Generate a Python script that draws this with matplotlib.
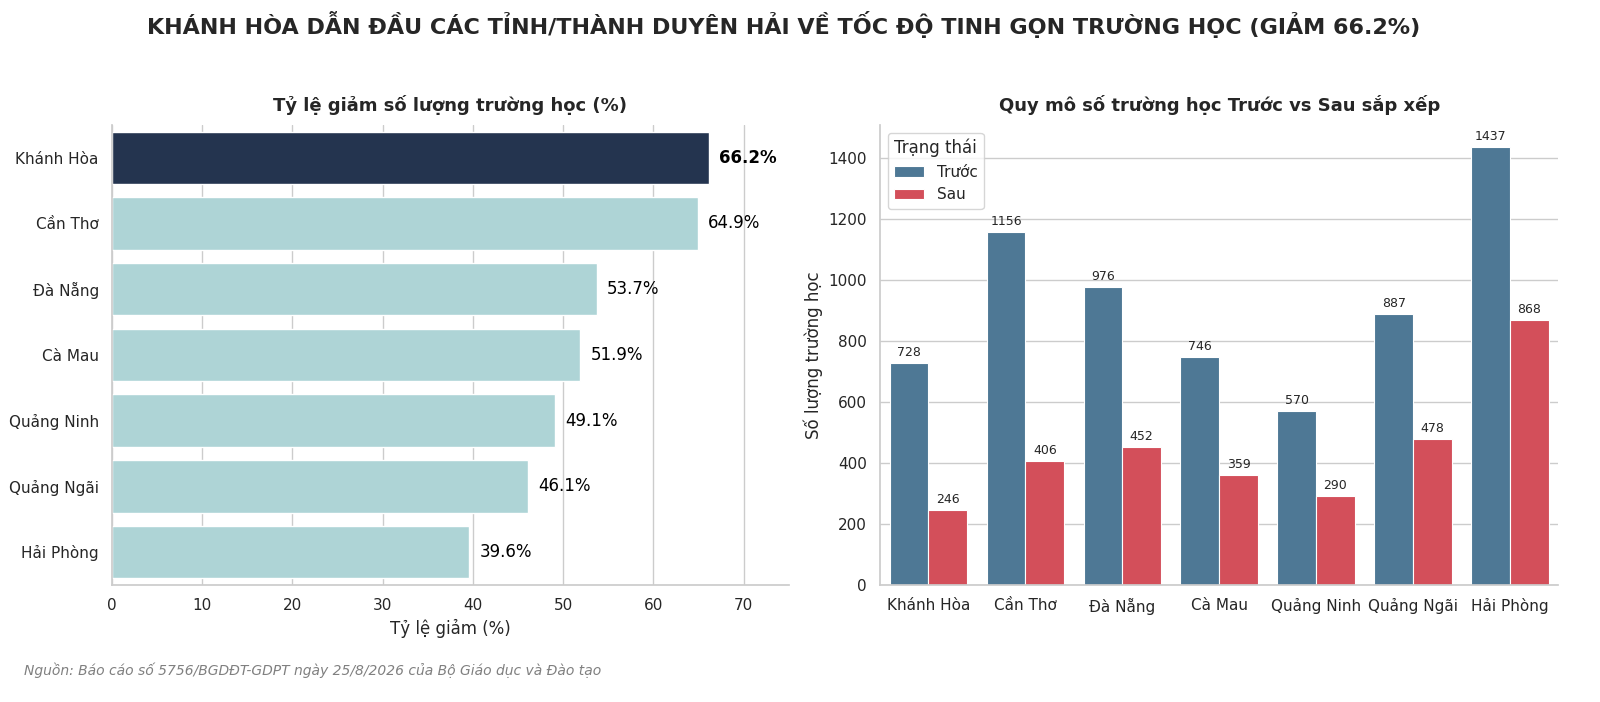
import matplotlib
matplotlib.use("Agg")
from matplotlib import pyplot as plt
import numpy as np
import seaborn as sns

provinces = ['Khánh Hòa', 'Cần Thơ', 'Đà Nẵng', 'Cà Mau', 'Quảng Ninh', 'Quảng Ngãi', 'Hải Phòng']
reduction_pct = [66.2, 64.9, 53.7, 51.9, 49.1, 46.1, 39.6]
before = [728, 1156, 976, 746, 570, 887, 1437]
after = [246, 406, 452, 359, 290, 478, 868]
status_labels = ['Trước', 'Sau']

sns.set_theme(style='whitegrid')
plt.rcParams['font.family'] = ['DejaVu Sans']

fig = plt.figure(figsize=(16, 7.02), dpi=100)
ax1 = fig.add_axes([0.07, 0.167, 0.423, 0.655])
ax2 = fig.add_axes([0.55, 0.167, 0.424, 0.655])

# left: reduction rate
y = np.arange(len(provinces))
colors = ['#24344f'] + ['#aed4d6'] * (len(provinces) - 1)
ax1.barh(y, reduction_pct, height=0.8, color=colors, zorder=2)
ax1.set_yticks(y)
ax1.set_yticklabels(provinces, fontsize=11)
ax1.set_ylim(len(provinces) - 0.5, -0.5)
ax1.set_xlim(0, 75)
ax1.set_xticks(range(0, 80, 10))
ax1.tick_params(axis='x', labelsize=11)
ax1.grid(axis='y', visible=False)
for i, v in enumerate(reduction_pct):
    ax1.text(v + 1.1, i, f'{v}%', va='center', ha='left', fontsize=12,
             fontweight='bold' if i == 0 else 'normal', color='black')
ax1.set_xlabel('Tỷ lệ giảm (%)', fontsize=12)
ax1.set_title('Tỷ lệ giảm số lượng trường học (%)', fontsize=13, fontweight='bold', pad=10)
sns.despine(ax=ax1)

# right: before vs after
x = np.arange(len(provinces))
w = 0.4
b1 = ax2.bar(x - w / 2, before, width=w, color='#4e7895', edgecolor='white', linewidth=0.8,
             label=status_labels[0], zorder=2)
b2 = ax2.bar(x + w / 2, after, width=w, color='#d34f5a', edgecolor='white', linewidth=0.8,
             label=status_labels[1], zorder=2)
ax2.bar_label(b1, padding=3, fontsize=9)
ax2.bar_label(b2, padding=3, fontsize=9)
ax2.set_xticks(x)
ax2.set_xticklabels(provinces, fontsize=11)
ax2.set_xlim(-0.5, len(provinces) - 0.5)
ax2.tick_params(axis='y', labelsize=11)
ax2.grid(axis='x', visible=False)
ax2.set_ylabel('Số lượng trường học', fontsize=12)
ax2.set_title('Quy mô số trường học Trước vs Sau sắp xếp', fontsize=13, fontweight='bold', pad=10)
ax2.legend(title='Trạng thái', loc='upper left', fontsize=11, title_fontsize=12)
sns.despine(ax=ax2)

fig.suptitle('KHÁNH HÒA DẪN ĐẦU CÁC TỈNH/THÀNH DUYÊN HẢI VỀ TỐC ĐỘ TINH GỌN TRƯỜNG HỌC (GIẢM 66.2%)',
             fontsize=16, fontweight='bold', x=0.49, y=0.985)
fig.text(0.015, 0.038, 'Nguồn: Báo cáo số 5756/BGDĐT-GDPT ngày 25/8/2026 của Bộ Giáo dục và Đào tạo',
         fontsize=10, style='italic', color='gray')

fig.savefig('out.png', dpi=100)
